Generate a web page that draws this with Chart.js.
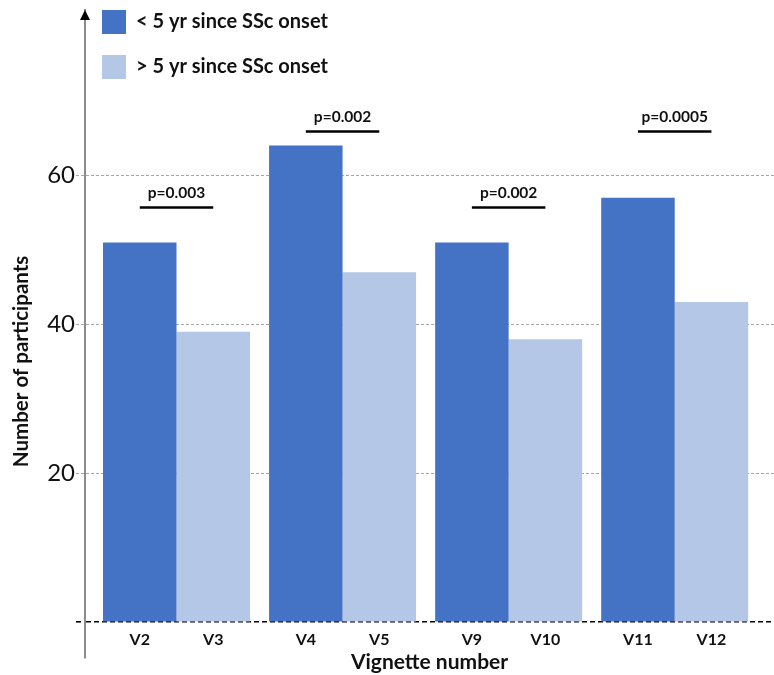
<!DOCTYPE html>
<html>
<head>
<meta charset="utf-8">
<script src="https://cdn.jsdelivr.net/npm/chart.js@4/dist/chart.umd.min.js"></script>
<style>
  html, body { margin: 0; padding: 0; background: #ffffff; }
  #wrap { width: 774px; height: 675px; position: relative; }
</style>
</head>
<body>
<div id="wrap"><canvas id="chart"></canvas></div>
<script>
// Vignette groups: each group pairs an early-onset and a late-onset vignette
const groups = [0, 1, 2, 3];
const earlyLabels = ['V2', 'V4', 'V9', 'V11'];
const lateLabels = ['V3', 'V5', 'V10', 'V12'];
const earlyCounts = [51, 64, 51, 57];
const lateCounts = [39, 47, 38, 43];
const pValues = ['p=0.003', 'p=0.002', 'p=0.002', 'p=0.0005'];
const yTicks = [0, 20, 40, 60];
const seriesNames = ['< 5 yr since SSc onset', '> 5 yr since SSc onset'];

const FONT = 'Lato, "Open Sans", "DejaVu Sans", sans-serif';
const INK = '#111111';

// share of each group slot filled by its pair of bars
const groupPct = 0.885;
// offset (in group units) of each bar's centre from its group's centre
const barShift = groupPct / 4;
// height (in participants) of the bracket drawn under each p-value
const bracketLevels = [55.7, 65.9, 55.7, 65.9];

const xRange = { min: -0.551, max: 3.598 };

const barLabelTicks = [];
groups.forEach((g, i) => {
  barLabelTicks.push({ value: g - barShift, label: earlyLabels[i] });
  barLabelTicks.push({ value: g + barShift, label: lateLabels[i] });
});

const isZero = c => c.tick && c.tick.value === 0;

const decorations = {
  id: 'decorations',
  beforeDraw(chart) {
    // legend sits inside the plot, top-left
    const lg = chart.legend;
    const area = chart.chartArea;
    const pad = lg.options.labels.padding;
    lg.left = area.left + 17 - pad;
    lg.top = area.top - pad;
    lg.right = area.right;
    lg.bottom = area.bottom;
  },
  afterDatasetsDraw(chart) {
    const { ctx, scales: { x, y } } = chart;
    ctx.save();
    groups.forEach((g, i) => {
      const x1 = x.getPixelForValue(g - barShift);
      const x2 = x.getPixelForValue(g + barShift);
      const py = y.getPixelForValue(bracketLevels[i]);
      ctx.strokeStyle = '#000000';
      ctx.lineWidth = 2.5;
      ctx.beginPath();
      ctx.moveTo(x1, py);
      ctx.lineTo(x2, py);
      ctx.stroke();
      ctx.fillStyle = INK;
      ctx.font = 'bold 15.5px ' + FONT;
      ctx.textAlign = 'center';
      ctx.textBaseline = 'alphabetic';
      ctx.fillText(pValues[i], (x1 + x2) / 2, py - 9);
    });
    ctx.restore();
  },
  afterDraw(chart) {
    // arrow head on top of the value axis
    const { ctx, chartArea: { left, top } } = chart;
    ctx.save();
    ctx.fillStyle = '#000000';
    ctx.beginPath();
    ctx.moveTo(left, top);
    ctx.lineTo(left - 5, top + 10);
    ctx.lineTo(left + 5, top + 10);
    ctx.closePath();
    ctx.fill();
    ctx.restore();
  }
};

new Chart(document.getElementById('chart'), {
  type: 'bar',
  data: {
    datasets: [
      {
        label: seriesNames[0],
        data: groups.map((g, i) => ({ x: g, y: earlyCounts[i] })),
        backgroundColor: '#4472C4',
        borderWidth: 0,
        categoryPercentage: groupPct,
        barPercentage: 1
      },
      {
        label: seriesNames[1],
        data: groups.map((g, i) => ({ x: g, y: lateCounts[i] })),
        backgroundColor: '#B4C7E7',
        borderWidth: 0,
        categoryPercentage: groupPct,
        barPercentage: 1
      }
    ]
  },
  options: {
    responsive: true,
    maintainAspectRatio: false,
    animation: false,
    layout: { padding: { top: 10, left: 0, right: 0, bottom: 0 } },
    scales: {
      x: {
        type: 'linear',
        display: false,
        offset: false,
        min: xRange.min,
        max: xRange.max,
        afterBuildTicks: s => { s.ticks = groups.map(v => ({ value: v })); }
      },
      x2: {
        type: 'linear',
        position: 'bottom',
        offset: false,
        min: xRange.min,
        max: xRange.max,
        afterBuildTicks: s => { s.ticks = barLabelTicks.map(t => ({ value: t.value })); },
        afterFit: s => { s.height = 17; },
        grid: { display: false, drawTicks: false },
        border: { display: false },
        ticks: {
          autoSkip: false,
          maxRotation: 0,
          mirror: true,
          padding: 9,
          color: INK,
          font: { family: FONT, size: 16, weight: 'bold' },
          callback: (v, i) => barLabelTicks[i].label
        },
        title: {
          display: true,
          text: 'Vignette number',
          color: INK,
          font: { family: FONT, size: 21, weight: 'bold' },
          padding: { top: 0, bottom: 0 }
        }
      },
      y: {
        min: -4.8,
        max: 82.2,
        afterBuildTicks: s => { s.ticks = yTicks.map(v => ({ value: v })); },
        afterFit: s => { s.width = 85; s.paddingTop = 0; s.paddingBottom = 0; },
        grid: {
          color: c => isZero(c) ? '#000000' : '#a6a6a6',
          lineWidth: c => isZero(c) ? 1.6 : 1,
          tickLength: 9,
          tickBorderDash: c => isZero(c) ? [5, 3] : [3, 2]
        },
        border: {
          display: true,
          color: '#8c8c8c',
          width: 2,
          dash: c => c.tick ? (c.tick.value === 0 ? [5, 3] : [3, 2]) : []
        },
        ticks: {
          padding: 1,
          color: INK,
          font: { family: FONT, size: 24 },
          callback: v => (v === 0 ? '' : v)
        },
        title: {
          display: true,
          text: 'Number of participants           ',
          color: INK,
          font: { family: FONT, size: 20.5, weight: 'bold' },
          padding: { top: 9, bottom: 0 }
        }
      }
    },
    plugins: {
      tooltip: { enabled: false },
      legend: {
        position: 'chartArea',
        align: 'start',
        labels: {
          boxWidth: 24,
          boxHeight: 24,
          padding: 21,
          textAlign: 'left',
          color: INK,
          font: { family: FONT, size: 20, weight: 'bold' }
        }
      }
    }
  },
  plugins: [decorations]
});
</script>
</body>
</html>
